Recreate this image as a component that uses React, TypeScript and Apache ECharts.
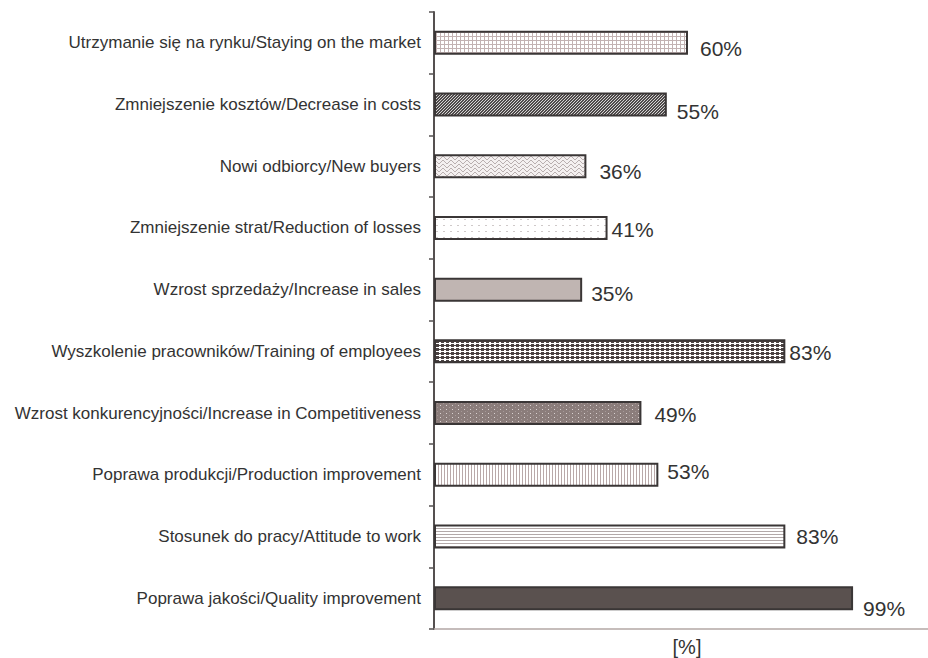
import React, { useEffect, useRef } from "react";
import * as echarts from "echarts";

// Categories listed top to bottom
const categories: string[] = [
  "Utrzymanie się na rynku/Staying on the market",
  "Zmniejszenie kosztów/Decrease in costs",
  "Nowi odbiorcy/New buyers",
  "Zmniejszenie strat/Reduction of losses",
  "Wzrost sprzedaży/Increase in sales",
  "Wyszkolenie pracowników/Training of employees",
  "Wzrost konkurencyjności/Increase in Competitiveness",
  "Poprawa produkcji/Production improvement",
  "Stosunek do pracy/Attitude to work",
  "Poprawa jakości/Quality improvement",
];

const values: number[] = [60, 55, 36, 41, 35, 83, 49, 53, 83, 99];

// Per-bar nudge of the percentage label [dx, dy]
const labelOffsets: [number, number][] = [
  [12, 6], [10, 7], [13, 5], [4, 2], [9, 4],
  [4, 1], [13, 1], [9, -3], [11, 0], [10, 10],
];

type Painter = (ctx: CanvasRenderingContext2D, w: number, h: number) => void;

function makeTile(w: number, h: number, paint: Painter): HTMLCanvasElement {
  const c = document.createElement("canvas");
  c.width = w;
  c.height = h;
  const ctx = c.getContext("2d")!;
  paint(ctx, w, h);
  return c;
}

function px(ctx: CanvasRenderingContext2D, x: number, y: number, color: string, w = 1, h = 1) {
  ctx.fillStyle = color;
  ctx.fillRect(x, y, w, h);
}

function buildFills(): any[] {
  const pat = (c: HTMLCanvasElement) => ({ image: c, repeat: "repeat" });

  // fine grid
  const grid = makeTile(4, 4, (ctx, w, h) => {
    px(ctx, 0, 0, "#ffffff", w, h);
    px(ctx, 0, 0, "#c2b2b2", 1, h);
    px(ctx, 0, 0, "#c2b2b2", w, 1);
  });

  // dense dark diagonal texture
  const diag = makeTile(3, 3, (ctx) => {
    for (let y = 0; y < 3; y++)
      for (let x = 0; x < 3; x++)
        px(ctx, x, y, (x + y) % 3 === 0 ? "#d6d4d4" : "#4e4a4a");
  });

  // light wavy lines
  const wave = makeTile(8, 4, (ctx) => {
    px(ctx, 0, 0, "#f4f0f0", 8, 4);
    const ys = [2, 1, 0, 0, 1, 2, 3, 3];
    ys.forEach((y, x) => px(ctx, x, y, "#b9afaf"));
  });

  // sparse light dashes
  const dashes = makeTile(7, 6, (ctx) => {
    px(ctx, 0, 0, "#ffffff", 7, 6);
    px(ctx, 2, 3, "#cfc9c9", 2, 1);
  });

  // dark crosses on white
  const crosses = makeTile(5, 4, (ctx) => {
    px(ctx, 0, 0, "#ffffff", 5, 4);
    const c = "#4a4242";
    px(ctx, 2, 0, c, 1, 3);
    px(ctx, 0, 1, c, 5, 1);
    px(ctx, 1, 0, c, 3, 3);
  });

  // light dots on brown-gray
  const brownDots = makeTile(6, 4, (ctx) => {
    px(ctx, 0, 0, "#8b7d7b", 6, 4);
    px(ctx, 2, 1, "#d9d1d0");
    px(ctx, 5, 3, "#a59897");
  });

  // vertical stripes
  const vlines = makeTile(3, 2, (ctx) => {
    px(ctx, 0, 0, "#ffffff", 3, 2);
    px(ctx, 0, 0, "#b9a9a9", 1, 2);
  });

  // horizontal stripes
  const hlines = makeTile(2, 3, (ctx) => {
    px(ctx, 0, 0, "#ffffff", 2, 3);
    px(ctx, 0, 0, "#b3a9a9", 2, 1);
  });

  return [
    pat(grid),
    pat(diag),
    pat(wave),
    pat(dashes),
    "#c0b5b2",
    pat(crosses),
    pat(brownDots),
    pat(vlines),
    pat(hlines),
    "#5a514f",
  ];
}

export default function App() {
  const ref = useRef<HTMLDivElement>(null);

  useEffect(() => {
    if (!ref.current) return;
    const chart = echarts.init(ref.current, undefined, { renderer: "svg" });
    const fills = buildFills();

    chart.setOption({
      animation: false,
      backgroundColor: "#ffffff",
      grid: {
        left: 434,
        top: 12,
        right: 0,
        bottom: 29,
        containLabel: false,
        outerBoundsMode: "none",
      },
      xAxis: {
        type: "value",
        min: 0,
        max: 116.7,
        axisLine: { show: true, lineStyle: { color: "#b3a7a5", width: 1.5 } },
        axisTick: { show: false },
        axisLabel: { show: false },
        splitLine: { show: false },
        name: "[%]",
        nameLocation: "middle",
        nameGap: 8,
        nameTextStyle: {
          fontFamily: "Liberation Sans",
          fontSize: 20,
          color: "#333333",
          verticalAlign: "top",
          padding: [0, 0, 0, 12],
        },
      },
      yAxis: {
        type: "category",
        data: categories,
        inverse: true,
        axisLine: { show: true, lineStyle: { color: "#555050", width: 2 } },
        axisTick: { show: true, inside: false, length: 5, lineStyle: { color: "#555050", width: 1.5 } },
        axisLabel: {
          margin: 13,
          fontFamily: "Liberation Sans",
          fontSize: 17,
          color: "#333333",
        },
        splitLine: { show: false },
      },
      series: [
        {
          type: "bar",
          barWidth: 24,
          data: values.map((v, i) => ({
            value: v,
            itemStyle: {
              color: fills[i],
              borderColor: "#3a3636",
              borderWidth: 2,
            },
            label: {
              show: true,
              position: "right",
              distance: 0,
              offset: labelOffsets[i],
              formatter: "{c}%",
              fontFamily: "Liberation Sans",
              fontSize: 21,
              color: "#333333",
            },
          })),
        },
      ],
    });

    return () => chart.dispose();
  }, []);

  return (
    <div
      ref={ref}
      style={{ position: "fixed", left: 0, top: 0, width: 928, height: 658 }}
    />
  );
}
